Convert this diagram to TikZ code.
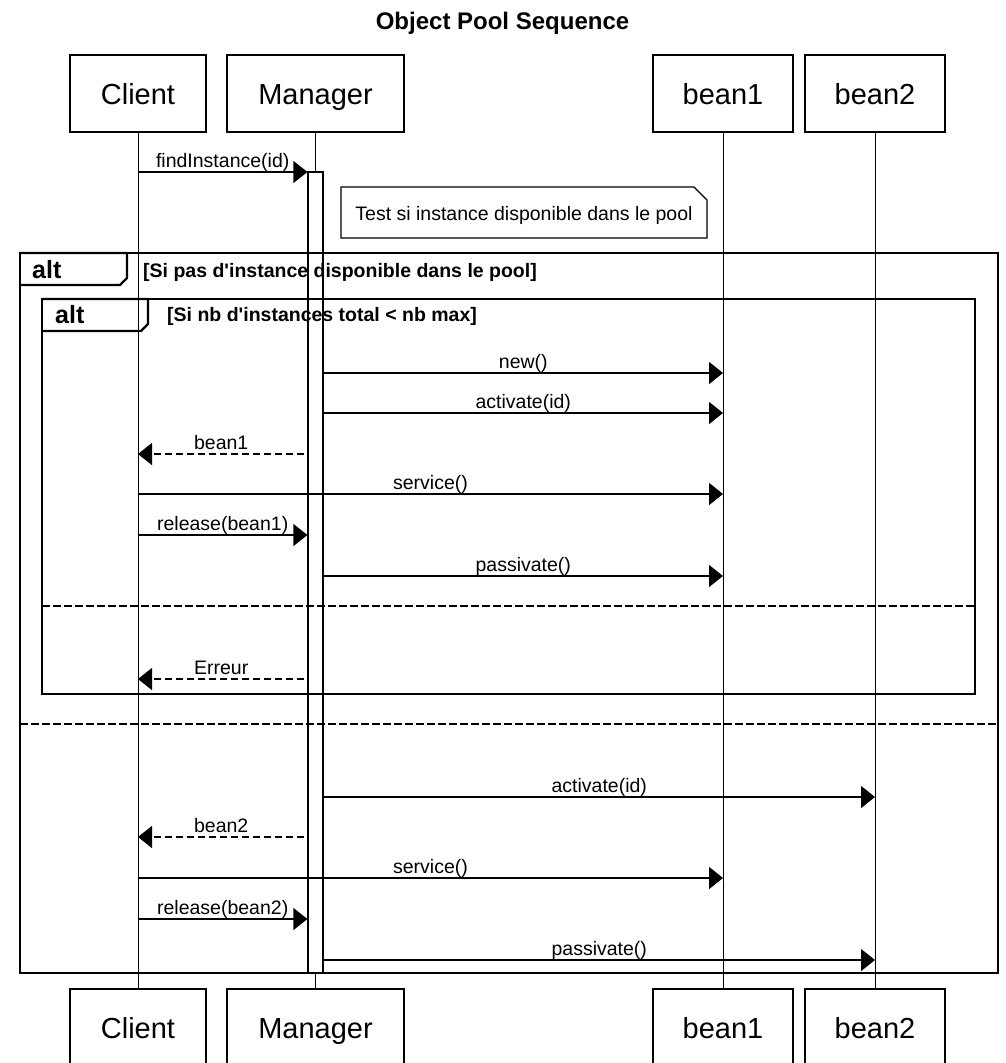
\documentclass[tikz,border=0pt]{standalone}
\usepackage{fontspec}
\setmainfont{Liberation Sans}[Ligatures=TeXOff]
\usetikzlibrary{arrows.meta,calc}
\begin{document}
\begin{tikzpicture}[x=1pt,y=-1pt,
  part/.style={draw, line width=1.2pt, minimum height=77pt, inner sep=0pt,
    text height=21pt, text depth=0pt, font=\fontsize{29}{32}\selectfont},
  life/.style={line width=1pt},
  barbox/.style={draw, fill=white, line width=1.2pt, minimum width=15pt, minimum height=801pt, inner sep=0pt},
  msg/.style={line width=1.3pt, -{Triangle[length=14pt,width=22pt]}},
  ret/.style={msg, dash pattern=on 7pt off 4pt},
  lbl/.style={anchor=base, inner sep=0pt, yshift=5pt, font=\fontsize{19.5}{22}\selectfont},
  framebox/.style={line width=2.2pt},
  sepline/.style={line width=2.2pt, dash pattern=on 8pt off 3pt},
  alttxt/.style={anchor=base west, inner sep=0pt, font=\bfseries\fontsize{25}{28}\selectfont},
  condtxt/.style={anchor=base west, inner sep=0pt, font=\bfseries\fontsize{19.5}{22}\selectfont},
]
\useasboundingbox (0,0) rectangle (1005,1063);
\clip (0,0) rectangle (1005,1063);

% title
\node[anchor=base, inner sep=0pt, font=\bfseries\fontsize{24}{28}\selectfont] (title) at (502.5,29) {Object Pool Sequence};

% participants
\node[part, minimum width=136pt] (ct) at (138,93.5) {Client};
\node[part, minimum width=177pt] (mt) at (315.5,93.5) {Manager};
\node[part, minimum width=140pt] (b1t) at (723,93.5) {bean1};
\node[part, minimum width=140pt] (b2t) at (875,93.5) {bean2};
\node[part, minimum width=136pt] (cb) at (138,1027.5) {Client};
\node[part, minimum width=177pt] (mb) at (315.5,1027.5) {Manager};
\node[part, minimum width=140pt] (b1b) at (723,1027.5) {bean1};
\node[part, minimum width=140pt] (b2b) at (875,1027.5) {bean2};

% lifelines
\draw[life] (ct) -- (cb);
\draw[life] (mt) -- (mb);
\draw[life] (b1t) -- (b1b);
\draw[life] (b2t) -- (b2b);

% activation bar
\node[barbox] (bar) at (315.5,572.5) {};

% frames
\draw[framebox] (20,253) rectangle (998,973);
\draw[framebox] (20,253) -- (127,253) -- (127,278) -- (120,285) -- (20,285);
\node[alttxt] (alt1) at (32,278) {alt};
\node[condtxt] (cond1) at (143,277) {[Si pas d'instance disponible dans le pool]};
\draw[sepline] (20,724) -- (998,724);

\draw[framebox] (42,299) rectangle (975,694);
\draw[framebox] (42,299) -- (148,299) -- (148,324) -- (141,331) -- (42,331);
\node[alttxt] (alt2) at (55,323) {alt};
\node[condtxt] (cond2) at (167,321) {[Si nb d'instances total < nb max]};
\draw[sepline] (42,606) -- (975,606);

% note
\draw[line width=1.2pt, fill=white] (341,187) -- (694,187) -- (707,200) -- (707,238) -- (341,238) -- cycle;
\node[anchor=base, inner sep=0pt, font=\fontsize{19.5}{22}\selectfont] (note) at (524,220) {Test si instance disponible dans le pool};

% rows
\coordinate (r1) at (0,172);
\coordinate (r2) at (0,373);
\coordinate (r3) at (0,413);
\coordinate (r4) at (0,454);
\coordinate (r5) at (0,494);
\coordinate (r6) at (0,535);
\coordinate (r7) at (0,576);
\coordinate (r8) at (0,679);
\coordinate (r9) at (0,797);
\coordinate (r10) at (0,837);
\coordinate (r11) at (0,878);
\coordinate (r12) at (0,919);
\coordinate (r13) at (0,960);

% messages
\draw[msg] (ct |- r1) -- (bar.west |- r1) node[lbl, midway] {findInstance(id)};
\draw[msg] (bar.east |- r2) -- (b1t |- r2) node[lbl, midway] {new()};
\draw[msg] (bar.east |- r3) -- (b1t |- r3) node[lbl, midway] {activate(id)};
\draw[ret] ($(bar.west |- r4)+(-3,0)$) -- (ct |- r4) node[lbl, midway] {bean1};
\draw[msg] (ct |- r5) -- (b1t |- r5) node[lbl, midway] {service()};
\draw[msg] (ct |- r6) -- (bar.west |- r6) node[lbl, midway] {release(bean1)};
\draw[msg] (bar.east |- r7) -- (b1t |- r7) node[lbl, midway] {passivate()};
\draw[ret] ($(bar.west |- r8)+(-3,0)$) -- (ct |- r8) node[lbl, midway] {Erreur};
\draw[msg] (bar.east |- r9) -- (b2t |- r9) node[lbl, midway] {activate(id)};
\draw[ret] ($(bar.west |- r10)+(-3,0)$) -- (ct |- r10) node[lbl, midway] {bean2};
\draw[msg] (ct |- r11) -- (b1t |- r11) node[lbl, midway] {service()};
\draw[msg] (ct |- r12) -- (bar.west |- r12) node[lbl, midway] {release(bean2)};
\draw[msg] (bar.east |- r13) -- (b2t |- r13) node[lbl, midway] {passivate()};
\end{tikzpicture}
\end{document}
